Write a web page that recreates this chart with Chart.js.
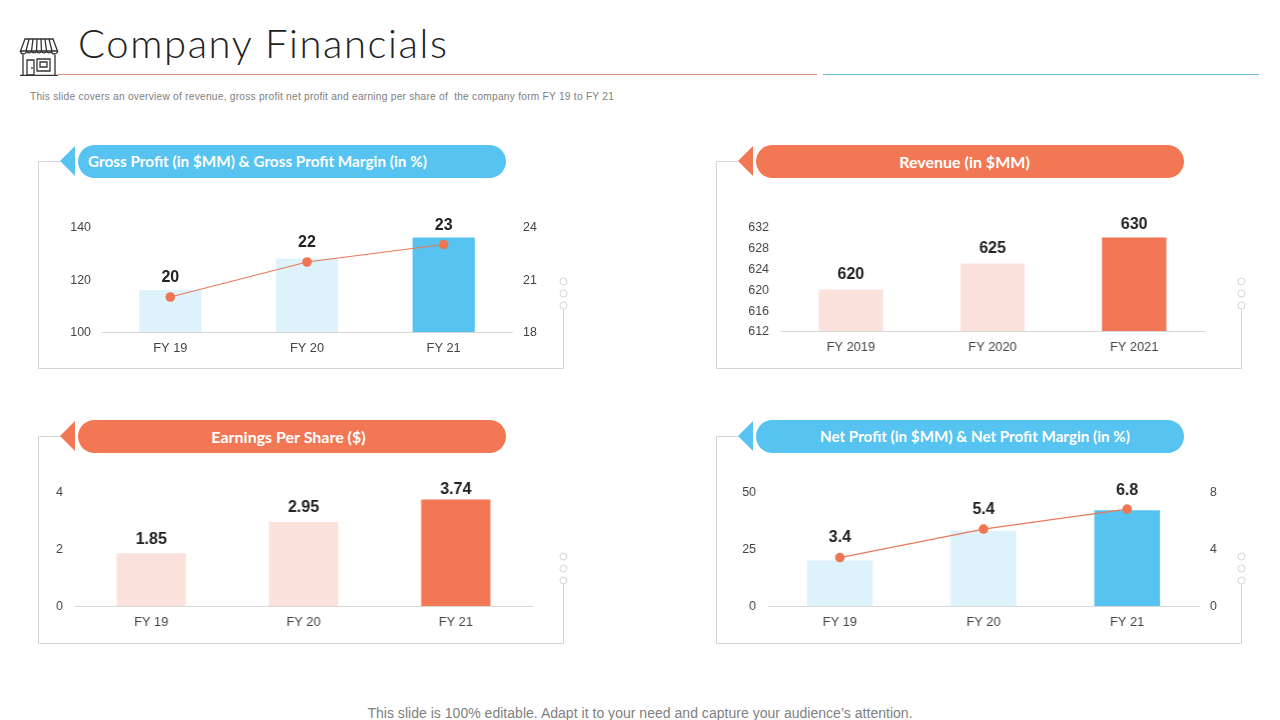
<!DOCTYPE html>
<html><head><meta charset="utf-8">
<script src="https://cdn.jsdelivr.net/npm/chart.js@4/dist/chart.umd.min.js"></script>
<style>
html,body{margin:0;padding:0;background:#fff;width:1280px;height:720px;overflow:hidden}
#stage{position:relative;width:1280px;height:720px}
canvas{position:absolute;display:block}
.t{position:absolute;white-space:nowrap}
#title{left:78px;top:19px;font:300 40px/48px Lato,sans-serif;color:#222;letter-spacing:1.6px}
#sub{left:30px;top:90px;font:10.2px/14px "Liberation Sans",sans-serif;color:#808080;letter-spacing:.24px}
#foot{left:0;width:1280px;text-align:center;top:705px;font:14px/17px "Liberation Sans",sans-serif;color:#7f7f7f;letter-spacing:.025px}
.pill{position:absolute;height:33px;width:428px;border-radius:17px;color:#fff;text-align:center;font-family:Lato,sans-serif;font-weight:700;line-height:33px}
.pill span{position:relative}
svg.deco{position:absolute;left:0;top:0}
</style></head>
<body><div id="stage">
<svg class="deco" id="deco" width="1280" height="720" viewBox="0 0 1280 720"></svg>
<div class="t" id="title">Company Financials</div>
<div class="t" id="sub">This slide covers an overview of revenue, gross profit net profit and earning per share of&nbsp; the company form FY 19 to FY 21</div>
<div class="t" id="foot">This slide is 100% editable. Adapt it to your need and capture your audience’s attention.</div>
</div>
<script>
const fyShort = ["FY 19", "FY 20", "FY 21"];
const fyLong = ["FY 2019", "FY 2020", "FY 2021"];
const grossProfit = [116, 128, 136];
const grossMargin = [20, 22, 23];
const revenue = [620, 625, 630];
const eps = [1.85, 2.95, 3.74];
const netProfit = [20, 33, 42];
const netMargin = [3.4, 5.4, 6.8];
const grossTicks = [100, 120, 140];
const marginTicks = [18, 21, 24];
const revenueTicks = [612, 616, 620, 624, 628, 632];
const epsTicks = [0, 2, 4];
const netTicks = [0, 25, 50];
const netMarginTicks = [0, 4, 8];
const panelTitles = ["Gross Profit (in $MM) & Gross Profit Margin (in %)", "Revenue (in $MM)", "Earnings Per Share ($)", "Net Profit (in $MM) & Net Profit Margin (in %)"];

const BLUE = "#57C3F0", BLUE_L = "#DDF2FB", ORANGE = "#F27855", ORANGE_L = "#FBE1DC";
const TICK = "#444444", BASE = "#D9D9D9", FRAME = "#D4D4D4";
const tickFont = {family: "Liberation Sans", size: 12.4};
const catFont = {family: "Liberation Sans", size: 12.8};

const valueLabels = {
  id: "valueLabels",
  afterDatasetsDraw(chart, args, o) {
    const meta = chart.getDatasetMeta(o.index), ds = chart.data.datasets[o.index], c = chart.ctx;
    c.save();
    c.font = "bold 16px 'Liberation Sans'";
    c.fillStyle = "#222";
    c.textAlign = "center";
    c.textBaseline = "middle";
    meta.data.forEach((el, i) => c.fillText(String(ds.data[i]), el.x, el.y - o.offset[i]));
    c.restore();
  }
};

function axisRange(t) { return {min: t[0], max: t[t.length - 1], ticks: {stepSize: t[1] - t[0]}}; }

function panel(p) {
  const x0 = p.L - 50, y0 = p.T - 30, w = p.R - p.L + 100, h = p.B - p.T + 62;
  const cv = document.createElement("canvas");
  cv.width = w; cv.height = h;
  cv.style.left = x0 + "px"; cv.style.top = y0 + "px";
  cv.style.width = w + "px"; cv.style.height = h + "px";
  document.getElementById("stage").appendChild(cv);
  const fixW = v => s => { s.width = v; };
  const leftR = axisRange(p.left);
  const scales = {
    x: {
      grid: {display: false, drawTicks: false},
      border: {display: true, color: BASE, width: 1},
      offset: true,
      ticks: {color: TICK, font: catFont, padding: 9, autoSkip: false, maxRotation: 0},
      afterFit: s => { s.height = 32; }
    },
    y: {
      position: "left", min: leftR.min, max: leftR.max,
      grid: {display: false, drawTicks: false}, border: {display: false},
      ticks: {color: TICK, font: tickFont, padding: p.pad || 11, stepSize: leftR.ticks.stepSize, labelOffset: 1},
      afterFit: fixW(50)
    }
  };
  const datasets = [{type: "bar", data: p.bars, backgroundColor: p.colors, borderWidth: 0,
    barPercentage: p.barPct, categoryPercentage: 1, yAxisID: "y", order: 2}];
  if (p.line) {
    const r = axisRange(p.right);
    scales.y1 = {
      position: "right", min: r.min, max: r.max,
      grid: {display: false, drawTicks: false}, border: {display: false},
      ticks: {color: TICK, font: tickFont, padding: 11, stepSize: r.ticks.stepSize, labelOffset: 1},
      afterFit: fixW(50)
    };
    datasets.push({type: "line", data: p.line, borderColor: "#E8795A", borderWidth: 1.2,
      pointBackgroundColor: "#EE7552", pointBorderColor: "#EE7552", pointRadius: 4.8, pointBorderWidth: 0,
      tension: 0, fill: false, yAxisID: "y1", order: 1});
  }
  new Chart(cv, {
    data: {labels: p.labels, datasets},
    plugins: [valueLabels],
    options: {
      responsive: false, animation: false, devicePixelRatio: 1,
      layout: {autoPadding: false, padding: {left: 0, top: 30, right: p.line ? 0 : 50, bottom: 0}},
      plugins: {legend: {display: false}, tooltip: {enabled: false},
        valueLabels: {index: p.line ? 1 : 0, offset: p.offset}},
      scales
    }
  });
}

panel({L: 101.5, R: 512, T: 227, B: 332, labels: fyShort, bars: grossProfit, line: grossMargin, left: grossTicks, right: marginTicks,
  colors: [BLUE_L, BLUE_L, BLUE], barPct: 0.455, offset: [19, 19, 18.5]});
panel({L: 780, R: 1204.5, T: 227, B: 331, labels: fyLong, bars: revenue, left: revenueTicks,
  colors: [ORANGE_L, ORANGE_L, ORANGE], barPct: 0.455, offset: [15, 15, 12.5]});
panel({L: 75, R: 531.5, T: 492, B: 606, labels: fyShort, bars: eps, left: epsTicks,
  colors: [ORANGE_L, ORANGE_L, ORANGE], barPct: 0.455, offset: [14, 14.5, 9.5], pad: 12});
panel({L: 768, R: 1198.5, T: 492, B: 606, labels: fyShort, bars: netProfit, line: netMargin, left: netTicks, right: netMarginTicks,
  colors: [BLUE_L, BLUE_L, BLUE], barPct: 0.457, offset: [19.5, 19, 18.5], pad: 12});

/* decoration */
const frames = [
  {x: 38, y: 161, c: BLUE, shift: -34.5, size: 15.3}, {x: 716, y: 161, c: ORANGE, shift: -5.5, size: 16},
  {x: 38, y: 436, c: ORANGE, shift: -3.5, size: 16}, {x: 716, y: 436, c: BLUE, shift: 5, size: 15.2}
];
let s = "";
s += '<line x1="58" y1="74.5" x2="817" y2="74.5" stroke="#D98F78" stroke-width="1"/>';
s += '<line x1="823" y1="74.5" x2="1259" y2="74.5" stroke="#6FBEDF" stroke-width="1"/>';
frames.forEach((f) => {
  const X = f.x + .5, Y = f.y + .5;
  s += `<path d="M${X + 22} ${Y}H${X}V${Y + 207}H${X + 525}V${Y + 144}" fill="none" stroke="${FRAME}" stroke-width="1"/>`;
  [120, 132, 144].forEach(d => {
    s += `<circle cx="${X + 525}" cy="${Y + d}" r="3.5" fill="#fff" stroke="${FRAME}" stroke-width="1"/>`;
  });
  s += `<path d="M${f.x + 22} ${f.y}L${f.x + 37} ${f.y - 15}V${f.y + 15}Z" fill="${f.c}"/>`;
});
/* shop icon */
s += `<g fill="none" stroke="#333" stroke-width="1.3">
<path d="M25 39H53L57.5 51H20.5Z"/>
<path d="M29 39L26 51M33 39L31.5 51M37 39L36.5 51M41 39L41.5 51M45 39L46.5 51M49 39L52 51"/>
<path d="M20.5 51a3 3 0 0 0 6 0a2.6 2.6 0 0 0 5 0a2.6 2.6 0 0 0 5 0a2.6 2.6 0 0 0 5 0a2.6 2.6 0 0 0 5 0a2.6 2.6 0 0 0 5 0a3 3 0 0 0 6 0"/>
<path d="M23 55V75M55 55V75M20 75.3H58"/>
<path d="M27 60H34V75H27ZM37 59H50V71H37ZM40 62H47V67H40Z"/>
<path d="M32 67V69"/>
</g>`;
document.getElementById("deco").innerHTML = s;
frames.forEach((f, i) => {
  const d = document.createElement("div");
  d.className = "pill";
  d.style.left = (f.x + 40) + "px";
  d.style.top = (f.y - 16) + "px";
  d.style.background = f.c;
  d.style.fontSize = f.size + "px";
  const sp = document.createElement("span");
  sp.style.left = f.shift + "px";
  sp.textContent = panelTitles[i];
  d.appendChild(sp);
  document.getElementById("stage").appendChild(d);
});
</script>
</body></html>
